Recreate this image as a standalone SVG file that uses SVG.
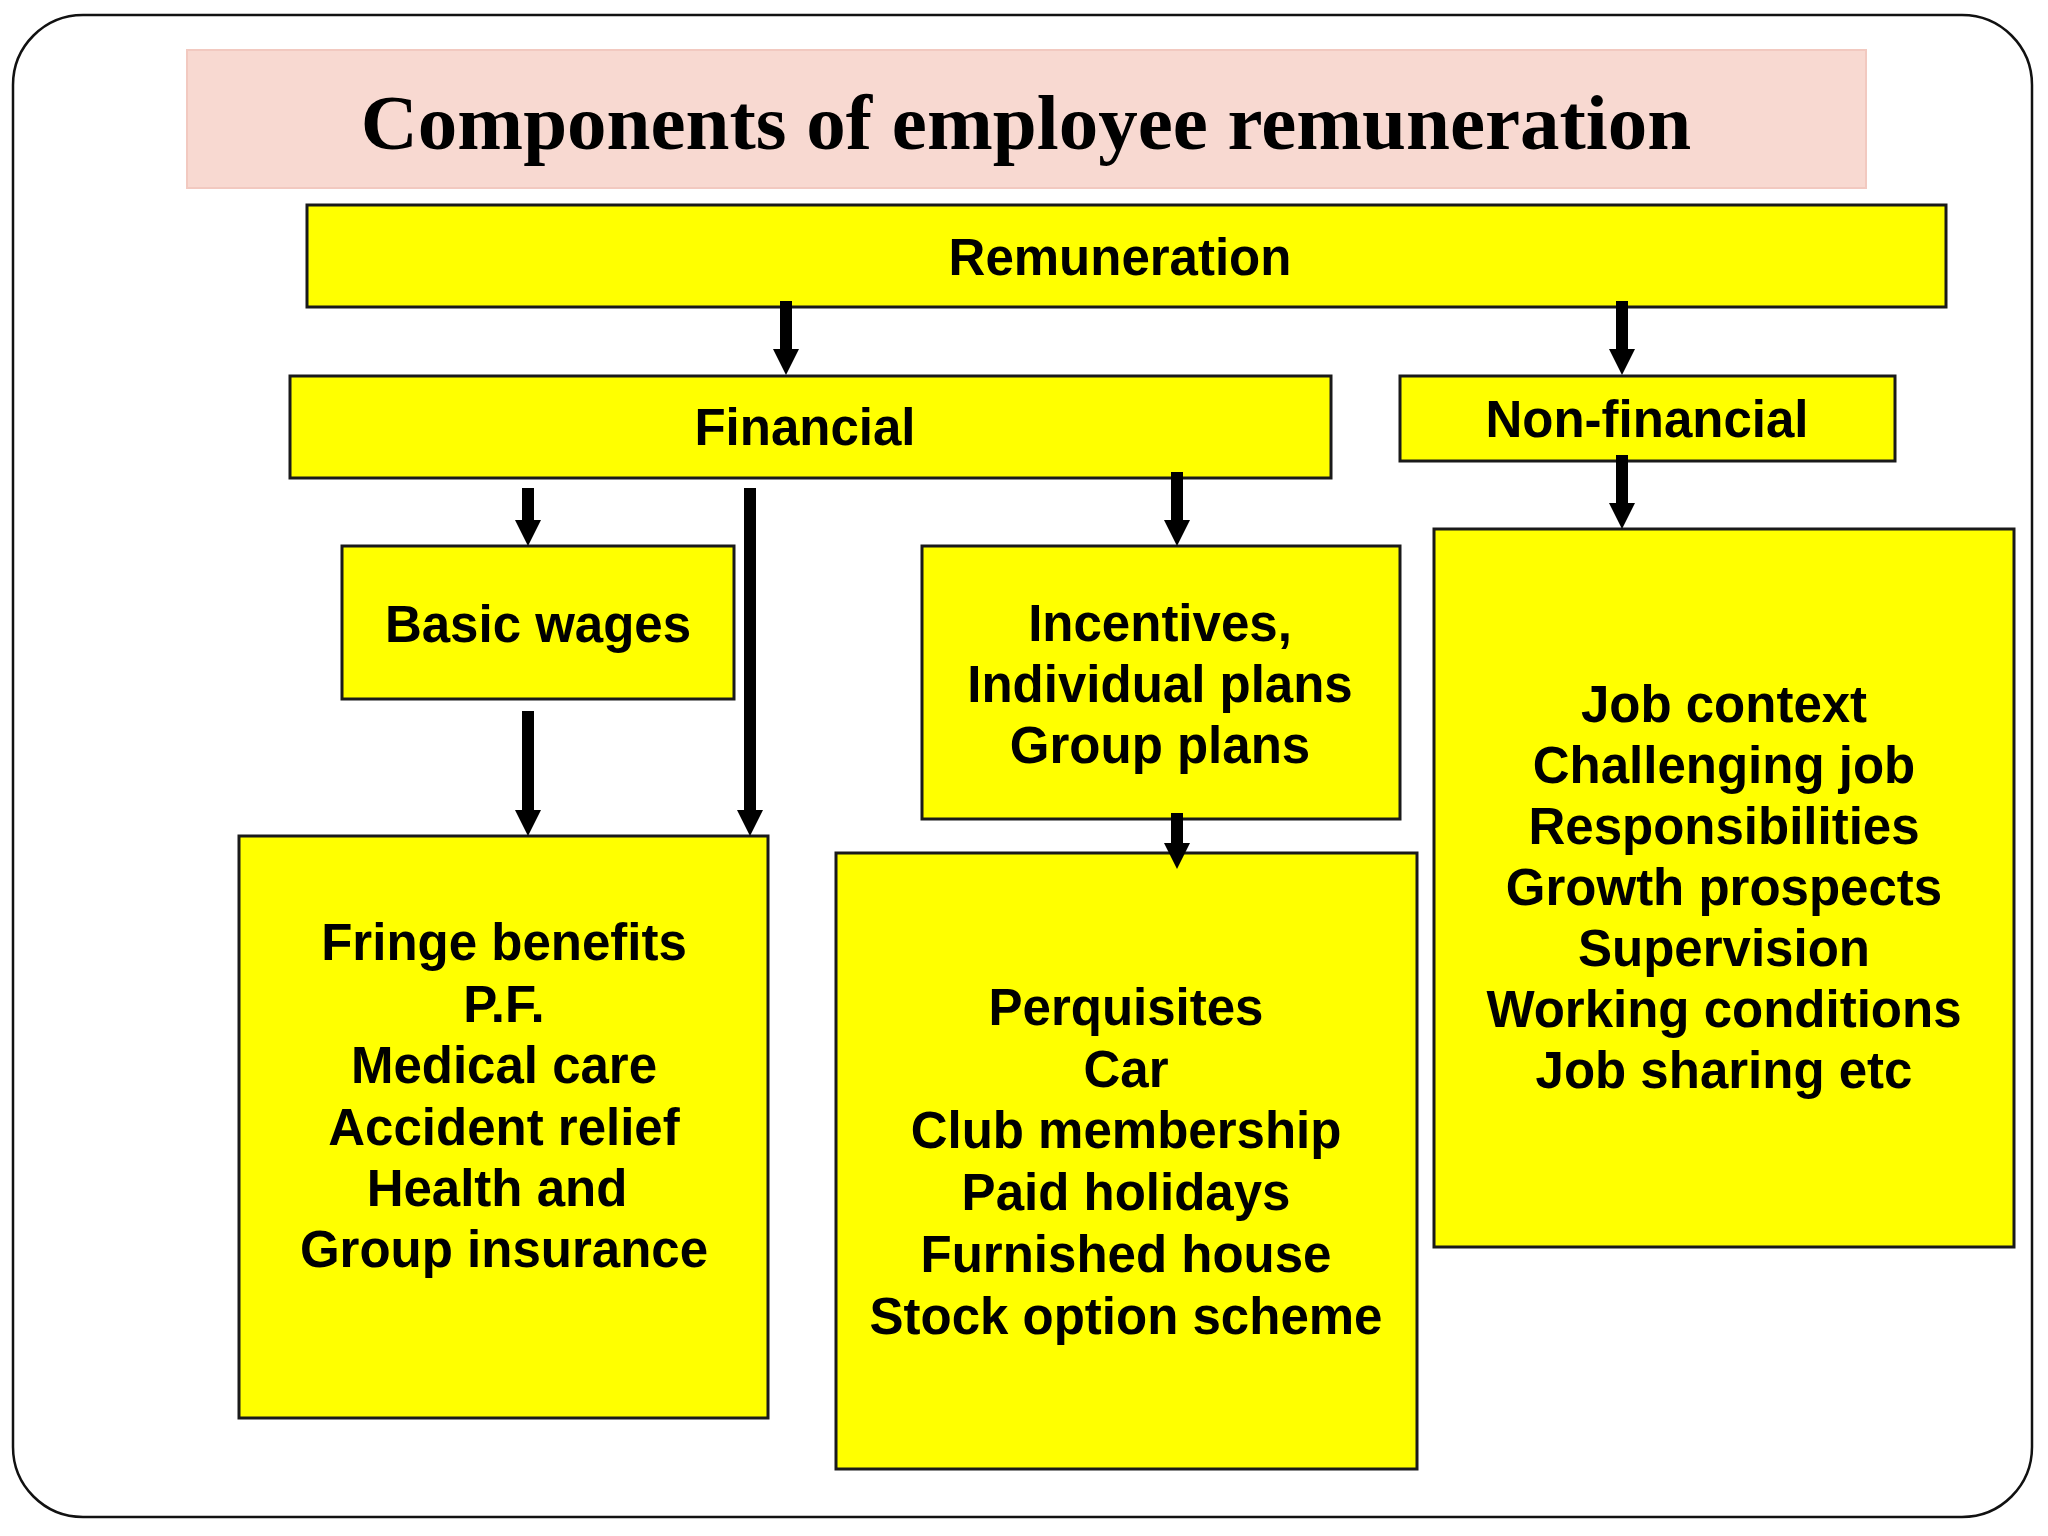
<svg xmlns="http://www.w3.org/2000/svg" width="2048" height="1536" viewBox="0 0 2048 1536">
  <style>
    .box { fill: #ffff00; stroke: #1a1a1a; stroke-width: 3; }
    .lbl { font-family: "Liberation Sans", Arial, sans-serif; font-weight: bold; font-size: 51px; fill: #000; text-anchor: middle; }
    .title { font-family: "Liberation Serif", "Times New Roman", serif; font-weight: bold; font-size: 79px; fill: #000; text-anchor: middle; }
    .conn { stroke: #000; stroke-width: 12; fill: none; }
  </style>
  <defs>
    <marker id="arrow" markerUnits="userSpaceOnUse" markerWidth="26" markerHeight="26" viewBox="0 0 26 26" refX="6" refY="13" orient="auto">
      <path d="M0,0 L26,13 L0,26 z" fill="#000"/>
    </marker>
  </defs>
  <rect width="2048" height="1536" fill="#ffffff"/>
  <rect x="13" y="15" width="2019" height="1502" rx="70" ry="70" fill="none" stroke="#111" stroke-width="2.5"/>

  <g id="title">
    <rect x="187" y="50" width="1679" height="138" fill="#f8d9d1" stroke="#f2c9c0" stroke-width="2"/>
    <text class="title" x="1026" y="149">Components of employee remuneration</text>
  </g>

  <g id="remuneration">
    <rect class="box" x="307" y="205" width="1639" height="102"/>
    <text class="lbl" x="1120" y="275">Remuneration</text>
  </g>

  <g id="financial">
    <rect class="box" x="290" y="376" width="1041" height="102"/>
    <text class="lbl" x="805" y="445">Financial</text>
  </g>

  <g id="non-financial">
    <rect class="box" x="1400" y="376" width="495" height="85"/>
    <text class="lbl" x="1647" y="437">Non-financial</text>
  </g>

  <g id="basic-wages">
    <rect class="box" x="342" y="546" width="392" height="153"/>
    <text class="lbl" x="538" y="642">Basic wages</text>
  </g>

  <g id="incentives">
    <rect class="box" x="922" y="546" width="478" height="273"/>
    <text class="lbl" x="1160" y="641">Incentives,</text>
    <text class="lbl" x="1160" y="702">Individual plans</text>
    <text class="lbl" x="1160" y="763">Group plans</text>
  </g>

  <g id="job-context">
    <rect class="box" x="1434" y="529" width="580" height="718"/>
    <text class="lbl" x="1724" y="722">Job context</text>
    <text class="lbl" x="1724" y="783">Challenging job</text>
    <text class="lbl" x="1724" y="844">Responsibilities</text>
    <text class="lbl" x="1724" y="905">Growth prospects</text>
    <text class="lbl" x="1724" y="966">Supervision</text>
    <text class="lbl" x="1724" y="1027">Working conditions</text>
    <text class="lbl" x="1724" y="1088">Job sharing etc</text>
  </g>

  <g id="fringe-benefits">
    <rect class="box" x="239" y="836" width="529" height="582"/>
    <text class="lbl" x="504" y="960">Fringe benefits</text>
    <text class="lbl" x="504" y="1022">P.F.</text>
    <text class="lbl" x="504" y="1083">Medical care</text>
    <text class="lbl" x="504" y="1145">Accident relief</text>
    <text class="lbl" x="497" y="1206">Health and</text>
    <text class="lbl" x="504" y="1267">Group insurance</text>
  </g>

  <g id="perquisites">
    <rect class="box" x="836" y="853" width="581" height="616"/>
    <text class="lbl" x="1126" y="1025">Perquisites</text>
    <text class="lbl" x="1126" y="1087">Car</text>
    <text class="lbl" x="1126" y="1148">Club membership</text>
    <text class="lbl" x="1126" y="1210">Paid holidays</text>
    <text class="lbl" x="1126" y="1272">Furnished house</text>
    <text class="lbl" x="1126" y="1334">Stock option scheme</text>
  </g>

  <g id="connectors">
    <line class="conn" x1="786" y1="301" x2="786" y2="355" marker-end="url(#arrow)"/>
    <line class="conn" x1="1622" y1="301" x2="1622" y2="355" marker-end="url(#arrow)"/>
    <line class="conn" x1="528" y1="488" x2="528" y2="526" marker-end="url(#arrow)"/>
    <line class="conn" x1="750" y1="488" x2="750" y2="816" marker-end="url(#arrow)"/>
    <line class="conn" x1="1177" y1="472" x2="1177" y2="526" marker-end="url(#arrow)"/>
    <line class="conn" x1="1622" y1="455" x2="1622" y2="509" marker-end="url(#arrow)"/>
    <line class="conn" x1="528" y1="711" x2="528" y2="816" marker-end="url(#arrow)"/>
    <line class="conn" x1="1177" y1="813" x2="1177" y2="849" marker-end="url(#arrow)"/>
  </g>
</svg>
